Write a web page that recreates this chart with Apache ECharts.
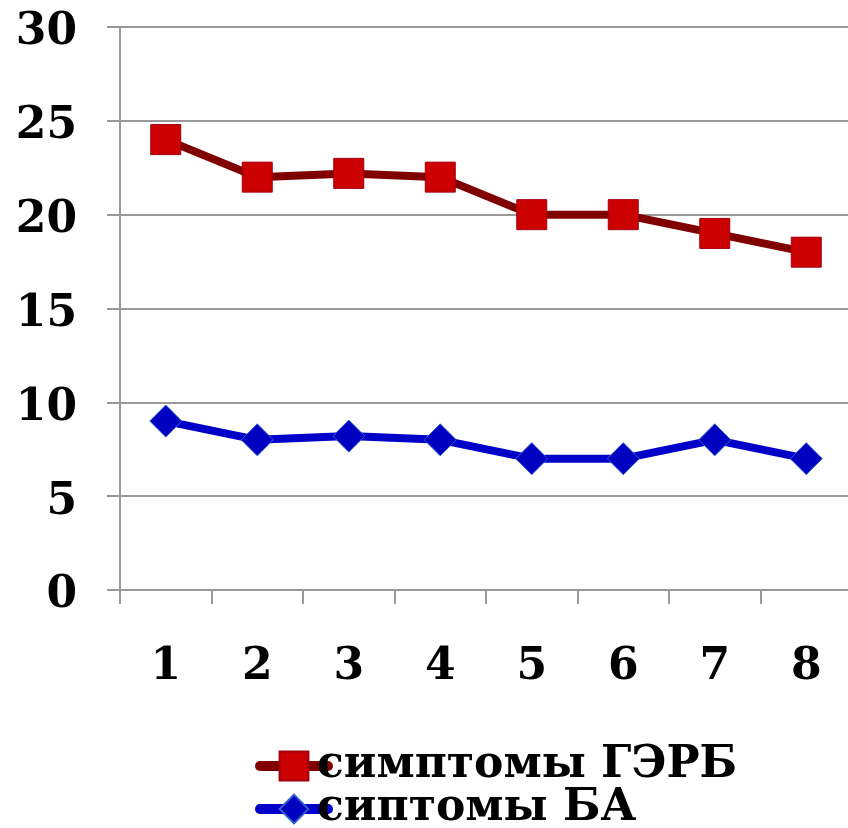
<!DOCTYPE html>
<html>
<head>
<meta charset="utf-8">
<script src="https://cdn.jsdelivr.net/npm/echarts@6/dist/echarts.min.js"></script>
<style>
html,body{margin:0;padding:0;background:#fff;}
#chart{width:848px;height:828px;}
</style>
</head>
<body>
<div id="chart"></div>
<script>
const categories = ['1','2','3','4','5','6','7','8'];
const gerdName = 'симптомы ГЭРБ';
const baName = 'сиптомы БА';
const gerdValues = [24, 22, 22.2, 22, 20, 20, 19, 18];
const baValues = [9, 8, 8.2, 8, 7, 7, 8, 7];
const yMin = 0, yMax = 30, yStep = 5;

const FONT = '"DejaVu Serif", serif';
const legendBase = {
  orient: 'horizontal',
  left: 250,
  itemWidth: 68,
  itemHeight: 36,
  lineStyle: { width: 10, cap: 'round' },
  textStyle: { fontFamily: FONT, fontWeight: 'bold', fontSize: 44, color: '#000', padding: [0,0,0,-16] }
};
const chart = echarts.init(document.getElementById('chart'));
chart.setOption({
  animation: false,
  backgroundColor: '#ffffff',
  grid: { left: 120, top: 27, width: 732, bottom: 238, outerBoundsMode: 'none', containLabel: false },
  legend: [
    Object.assign({}, legendBase, { top: 739, data: [gerdName] }),
    Object.assign({}, legendBase, { top: 782, data: [baName] })
  ],
  xAxis: {
    type: 'category',
    data: categories,
    boundaryGap: true,
    axisLine: { show: true, lineStyle: { color: '#999', width: 2 } },
    axisTick: { show: true, length: 14, lineStyle: { color: '#999', width: 2 } },
    axisLabel: { fontFamily: FONT, fontWeight: 'bold', fontSize: 44, color: '#000', margin: 56 },
    splitLine: { show: false }
  },
  yAxis: {
    type: 'value',
    min: yMin, max: yMax, interval: yStep,
    axisLine: { show: true, lineStyle: { color: '#999', width: 2 } },
    axisTick: { show: true, length: 13, lineStyle: { color: '#999', width: 2 } },
    axisLabel: {
      color: '#000', margin: 43,
      formatter: '{a|{value}}',
      rich: { a: { fontFamily: FONT, fontWeight: 'bold', fontSize: 44, color: '#000', padding: [12,0,0,0] } }
    },
    splitLine: { show: true, lineStyle: { color: '#999', width: 2 } }
  },
  series: [
    {
      name: gerdName,
      type: 'line',
      data: gerdValues,
      symbol: 'rect',
      symbolSize: 30,
      lineStyle: { color: '#800000', width: 8 },
      itemStyle: { color: '#cc0000', borderColor: '#a00010', borderWidth: 1 },
      z: 3
    },
    {
      name: baName,
      type: 'line',
      data: baValues,
      symbol: 'diamond',
      symbolSize: 32,
      lineStyle: { color: '#0000c8', width: 8 },
      itemStyle: { color: '#0000c0', borderColor: '#3060d0', borderWidth: 1 },
      z: 3
    }
  ]
});
</script>
</body>
</html>
